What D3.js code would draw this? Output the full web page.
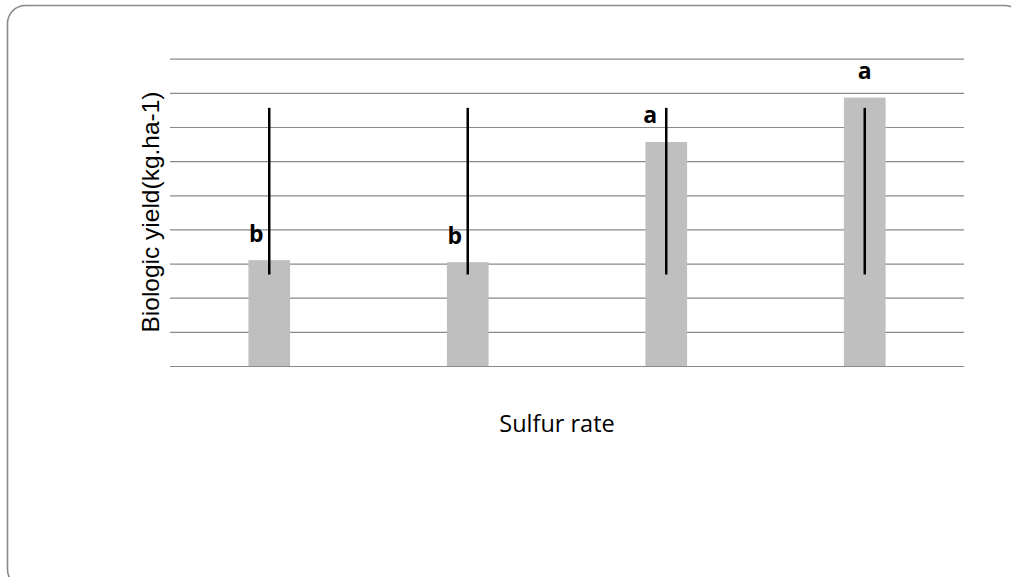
<!DOCTYPE html>
<html>
<head>
<meta charset="utf-8">
<script src="https://cdn.jsdelivr.net/npm/d3@7"></script>
<style>
  body { margin: 0; background: #fff; overflow: hidden; }
</style>
</head>
<body>
<div id="chart"></div>
<script>
// data (grid units, 10 gridlines 0..9)
var categories = ["S1", "S2", "S3", "S4"];
var yieldValues = [3.1, 3.04, 6.56, 7.86];
var errLow = [2.68, 2.68, 2.68, 2.68];
var errHigh = [7.56, 7.56, 7.56, 7.56];
var letters = ["b", "b", "a", "a"];
var gridTicks = [0, 1, 2, 3, 4, 5, 6, 7, 8, 9];

// small nudges for the letters, as they sit in the original
var letterShift = [-13, -13, -16, 0];

var W = 1011, H = 577;
var margin = {top: 58.7, right: 47, bottom: 211, left: 170},
    width = W - margin.left - margin.right,
    height = H - margin.top - margin.bottom;

var root = d3.select("#chart")
  .append("svg")
    .attr("width", W)
    .attr("height", H);

// outer frame (runs off the right and bottom edges in the original)
root.append("rect")
  .attr("x", 7.5).attr("y", 5.5)
  .attr("width", 1015).attr("height", 582)
  .attr("rx", 18).attr("ry", 18)
  .attr("fill", "#fff")
  .attr("stroke", "#888")
  .attr("stroke-width", 1.6);

var svg = root.append("g")
  .attr("transform", "translate(" + margin.left + "," + margin.top + ")");

var x = d3.scaleBand()
  .domain(categories)
  .range([0, width])
  .paddingInner(0.79)
  .paddingOuter(0.395);

var y = d3.scaleLinear().domain([0, 9]).range([height, 0]);

// gridlines
svg.append("g")
  .call(d3.axisLeft(y).tickValues(gridTicks).tickSize(-width).tickFormat(""))
  .call(function(g) {
    g.select(".domain").remove();
    g.selectAll(".tick line").attr("stroke", "#8a8a8a").attr("stroke-width", 1.2);
  });

// bars
svg.selectAll("rect.bar")
  .data(yieldValues)
  .enter()
  .append("rect")
  .attr("class", "bar")
  .attr("x", function(d, i) { return x(categories[i]); })
  .attr("y", function(d) { return y(d); })
  .attr("width", x.bandwidth())
  .attr("height", function(d) { return height - y(d); })
  .attr("fill", "#bfbfbf");

// error bars
svg.selectAll("line.err")
  .data(categories)
  .enter()
  .append("line")
  .attr("class", "err")
  .attr("x1", function(d) { return x(d) + x.bandwidth() / 2; })
  .attr("x2", function(d) { return x(d) + x.bandwidth() / 2; })
  .attr("y1", function(d, i) { return y(errLow[i]); })
  .attr("y2", function(d, i) { return y(errHigh[i]); })
  .attr("stroke", "#000")
  .attr("stroke-width", 2.5);

// significance letters
svg.selectAll("text.letter")
  .data(letters)
  .enter()
  .append("text")
  .attr("class", "letter")
  .attr("x", function(d, i) { return x(categories[i]) + x.bandwidth() / 2 + letterShift[i]; })
  .attr("y", function(d, i) { return y(yieldValues[i]) - 18.5; })
  .attr("text-anchor", "middle")
  .attr("font-family", "'Open Sans', sans-serif")
  .attr("font-weight", "bold")
  .attr("font-size", 23)
  .text(function(d) { return d; });

// axis titles
root.append("text")
  .attr("transform", "translate(159,212) rotate(-90)")
  .attr("text-anchor", "middle")
  .attr("font-family", "'Liberation Sans', Arial, sans-serif")
  .attr("font-size", 24.5)
  .attr("fill", "#000")
  .text("Biologic yield(kg.ha-1)");

root.append("text")
  .attr("x", 557)
  .attr("y", 432)
  .attr("text-anchor", "middle")
  .attr("font-family", "'Open Sans', sans-serif")
  .attr("font-size", 23.5)
  .attr("fill", "#000")
  .text("Sulfur rate");
</script>
</body>
</html>
